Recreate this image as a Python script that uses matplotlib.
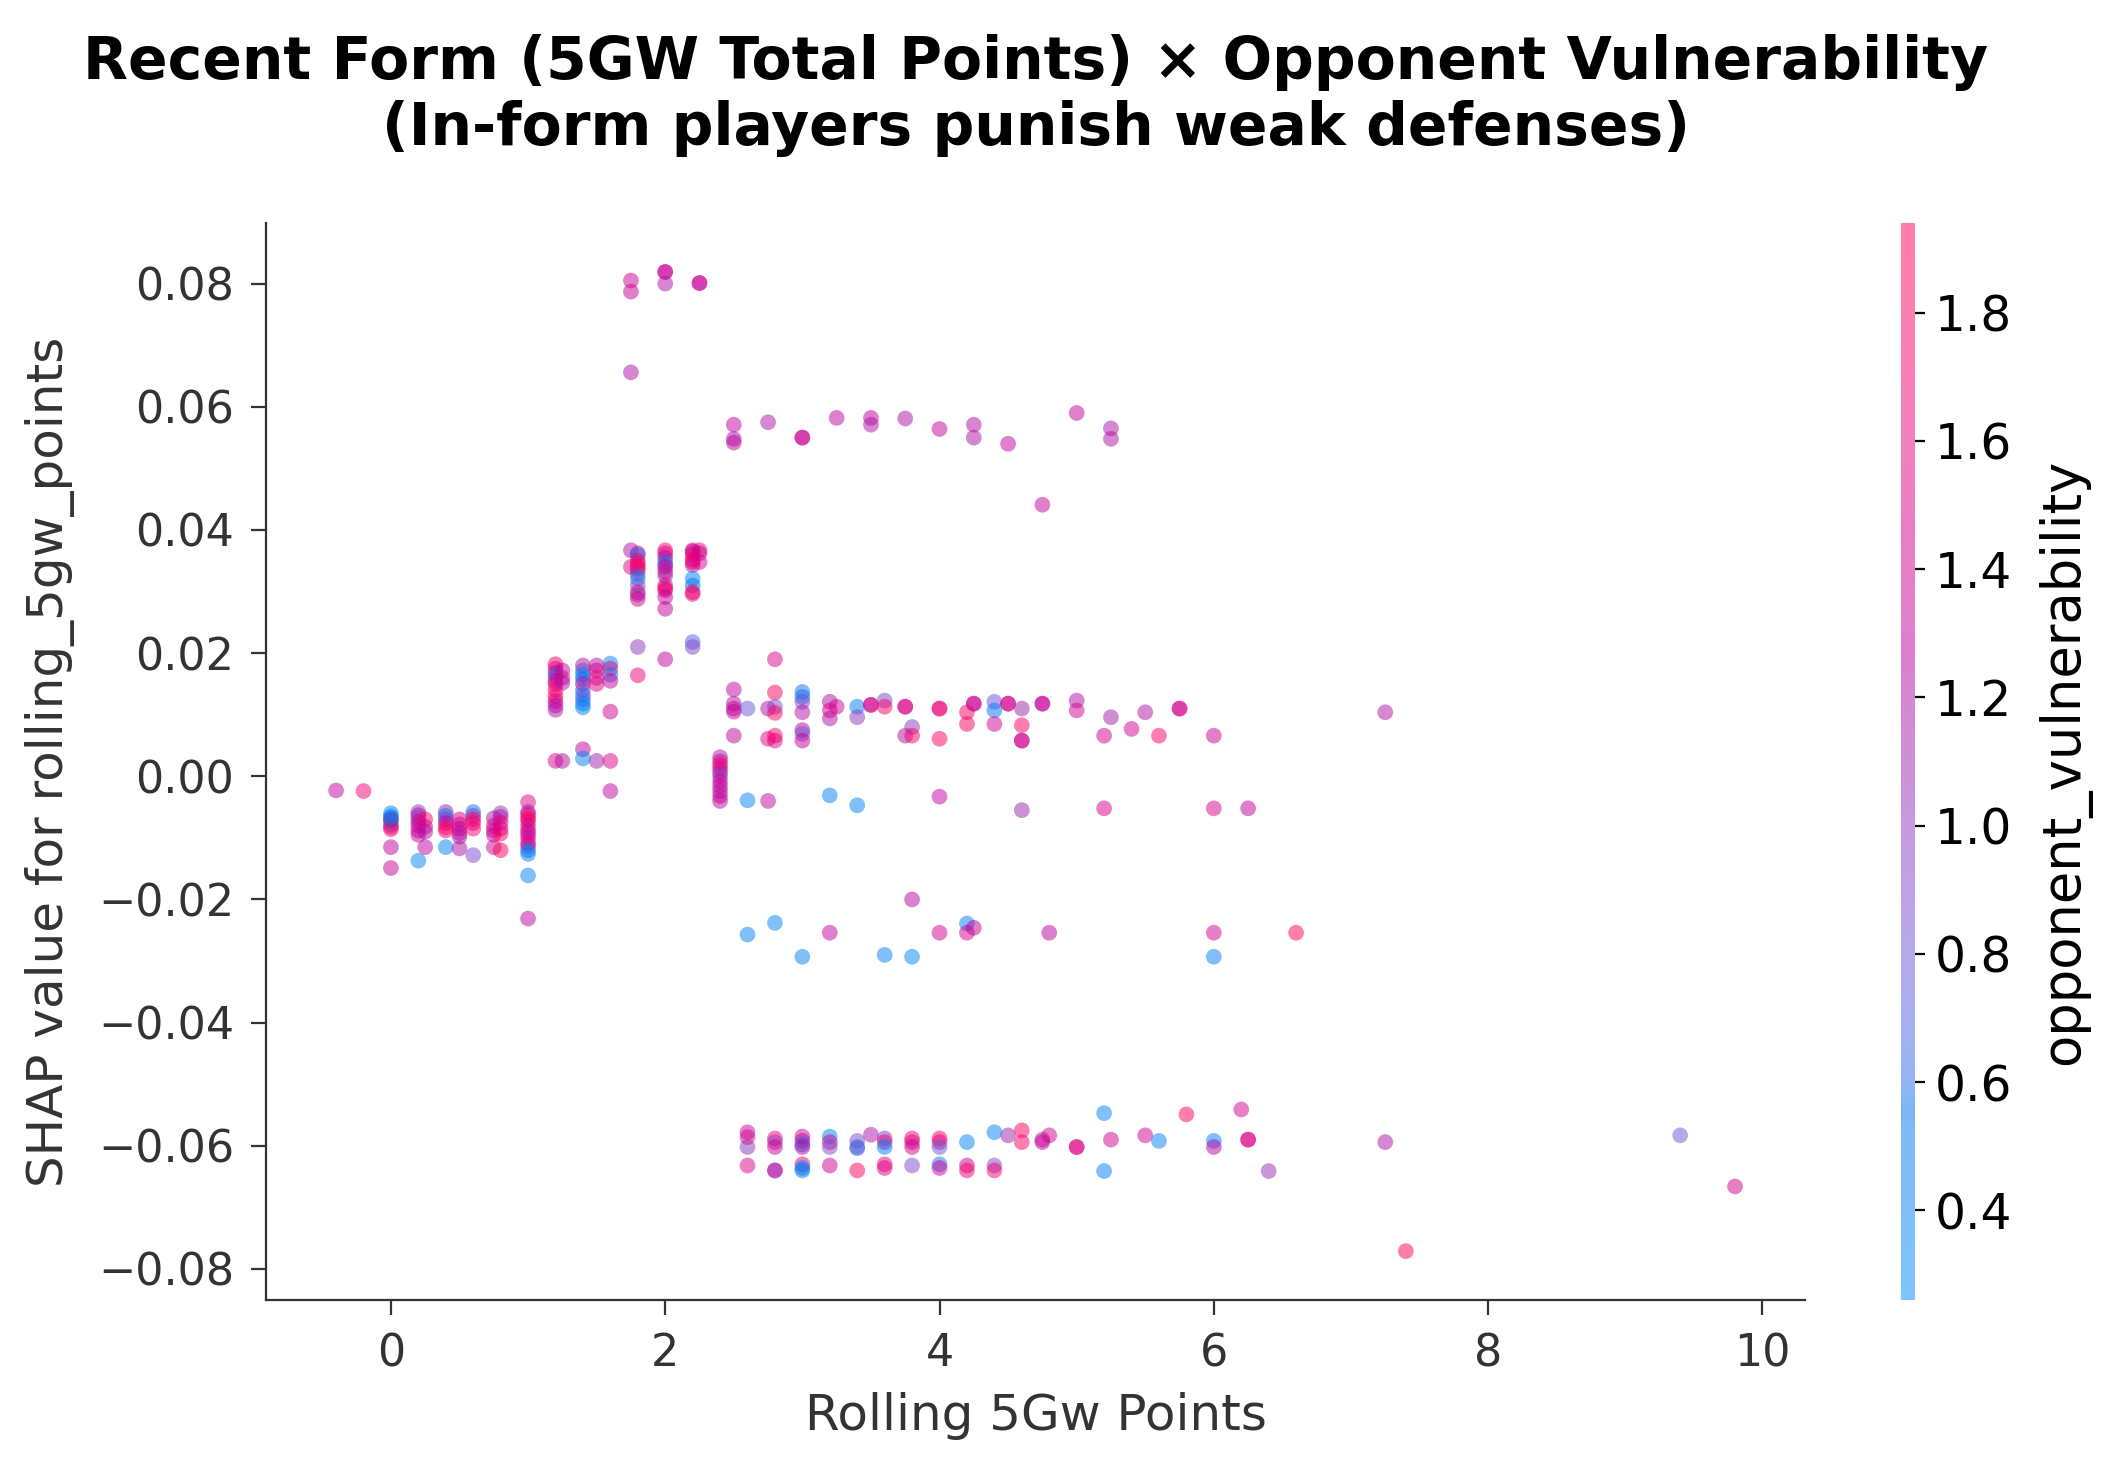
import numpy as np
import matplotlib
matplotlib.use("Agg")
import matplotlib.pyplot as plt
from matplotlib.colors import LinearSegmentedColormap

# (rolling_5gw_points, shap value, opponent_vulnerability), grouped by band
top_band = [
    (1.75, 0.0805, 1.35), (1.75, 0.0787, 1.35), (2.0, 0.0819, 1.3), (2.0, 0.0819, 1.4),
    (2.0, 0.0800, 1.2), (2.25, 0.0801, 1.3), (2.25, 0.0801, 1.4), (1.75, 0.0656, 1.2),
    (2.5, 0.0571, 1.3), (2.5, 0.0548, 1.2), (2.5, 0.0542, 1.3), (2.75, 0.0575, 1.2),
    (3.0, 0.0550, 1.3), (3.0, 0.0550, 1.4), (3.25, 0.0582, 1.3), (3.5, 0.0582, 1.3),
    (3.5, 0.0571, 1.2), (3.75, 0.0581, 1.2), (4.0, 0.0564, 1.3), (4.25, 0.0571, 1.2),
    (4.25, 0.0550, 1.2), (4.5, 0.0540, 1.3), (5.0, 0.0590, 1.3), (5.25, 0.0565, 1.2),
    (5.25, 0.0548, 1.2), (4.75, 0.0441, 1.3),
]

band_03 = [
    (1.75, 0.0367, 1.2), (1.75, 0.0340, 1.5),
    (1.8, 0.0362, 1.3), (1.8, 0.0359, 0.6), (1.8, 0.0350, 1.8), (1.8, 0.0345, 1.6),
    (1.8, 0.0340, 1.9), (1.8, 0.0336, 1.7), (1.8, 0.0329, 1.0), (1.8, 0.0321, 0.4),
    (1.8, 0.0310, 0.8), (1.8, 0.0299, 1.7), (1.8, 0.0295, 1.0), (1.8, 0.0288, 1.4),
    (1.8, 0.0210, 1.0), (1.8, 0.0164, 1.6),
    (2.0, 0.0367, 1.7), (2.0, 0.0362, 1.5), (2.0, 0.0355, 1.4), (2.0, 0.0348, 0.5),
    (2.0, 0.0343, 0.9), (2.0, 0.0340, 1.3), (2.0, 0.0332, 1.5), (2.0, 0.0326, 1.1),
    (2.0, 0.0310, 1.5), (2.0, 0.0305, 1.4), (2.0, 0.0302, 1.8), (2.0, 0.0291, 1.3),
    (2.0, 0.0272, 1.3), (2.0, 0.0190, 1.3),
    (2.2, 0.0367, 1.5), (2.2, 0.0365, 1.3), (2.2, 0.0360, 1.6), (2.2, 0.0352, 1.8),
    (2.2, 0.0348, 1.7), (2.2, 0.0343, 1.4), (2.2, 0.0321, 0.35), (2.2, 0.0310, 0.5),
    (2.2, 0.0299, 1.8), (2.2, 0.0296, 1.6), (2.2, 0.0218, 0.7), (2.2, 0.0210, 0.9),
    (2.25, 0.0367, 1.5), (2.25, 0.0362, 1.4), (2.25, 0.0348, 1.5),
]

band_015 = [
    (1.2, 0.0182, 1.8), (1.2, 0.0175, 1.5), (1.2, 0.0168, 1.2), (1.2, 0.0162, 0.6),
    (1.2, 0.0155, 1.3), (1.2, 0.0150, 1.6), (1.2, 0.0140, 1.8), (1.2, 0.0130, 1.7),
    (1.2, 0.0122, 1.5), (1.2, 0.0115, 1.3), (1.2, 0.0108, 1.2), (1.2, 0.0025, 1.45),
    (1.25, 0.0172, 1.3), (1.25, 0.0160, 1.5), (1.25, 0.0152, 1.2), (1.25, 0.0025, 1.2),
    (1.4, 0.0180, 1.2), (1.4, 0.0172, 0.9), (1.4, 0.0165, 0.4), (1.4, 0.0158, 0.5),
    (1.4, 0.0150, 1.3), (1.4, 0.0140, 0.9), (1.4, 0.0132, 0.5), (1.4, 0.0125, 0.8),
    (1.4, 0.0118, 0.4), (1.4, 0.0112, 0.35), (1.4, 0.0044, 1.3), (1.4, 0.0029, 0.35),
    (1.5, 0.0180, 1.2), (1.5, 0.0172, 1.4), (1.5, 0.0160, 1.6), (1.5, 0.0150, 1.5),
    (1.5, 0.0025, 1.1),
    (1.6, 0.0183, 0.35), (1.6, 0.0175, 1.6), (1.6, 0.0165, 0.6), (1.6, 0.0155, 1.3),
    (1.6, 0.0105, 1.4), (1.6, 0.0025, 1.5), (1.6, -0.0024, 1.3),
]

band_01 = [
    (2.5, 0.0141, 1.3), (2.5, 0.0118, 1.2), (2.5, 0.0110, 1.4), (2.5, 0.0105, 1.3),
    (2.5, 0.0066, 1.3), (2.6, 0.0110, 0.8), (2.75, 0.0110, 1.2), (2.75, 0.0061, 1.5),
    (2.8, 0.0190, 1.5), (2.8, 0.0136, 1.8), (2.8, 0.0113, 0.9), (2.8, 0.0103, 1.8),
    (2.8, 0.0066, 1.7), (2.8, 0.0058, 1.6),
    (3.0, 0.0137, 0.6), (3.0, 0.0129, 0.5), (3.0, 0.0121, 0.9), (3.0, 0.0104, 1.2),
    (3.0, 0.0075, 1.3), (3.0, 0.0069, 0.8), (3.0, 0.0058, 1.3),
    (3.2, 0.0121, 1.2), (3.2, 0.0107, 1.5), (3.2, 0.0094, 1.2), (3.25, 0.0113, 1.4),
    (3.4, 0.0113, 0.4), (3.4, 0.0096, 1.0), (3.5, 0.0116, 1.5), (3.5, 0.0116, 1.4),
    (3.6, 0.0123, 0.9), (3.6, 0.0113, 1.8), (3.75, 0.0113, 1.4), (3.75, 0.0113, 1.5),
    (3.75, 0.0066, 1.2), (3.8, 0.0080, 1.0), (3.8, 0.0066, 1.8),
    (4.0, 0.0110, 1.7), (4.0, 0.0110, 1.6), (4.0, 0.0061, 1.8),
    (4.2, 0.0104, 1.8), (4.2, 0.0085, 1.8), (4.25, 0.0118, 1.5), (4.25, 0.0118, 1.3),
    (4.4, 0.0121, 0.8), (4.4, 0.0107, 0.5), (4.4, 0.0085, 1.4),
    (4.5, 0.0118, 1.3), (4.5, 0.0118, 1.5),
    (4.6, 0.0110, 1.1), (4.6, 0.0083, 1.8), (4.6, 0.0058, 1.5), (4.6, 0.0058, 1.4),
    (4.75, 0.0118, 1.4), (4.75, 0.0118, 1.3), (5.0, 0.0123, 1.2), (5.0, 0.0107, 1.4),
    (5.2, 0.0066, 1.4), (5.25, 0.0096, 1.15), (5.4, 0.0077, 1.4), (5.5, 0.0104, 1.2),
    (5.6, 0.0066, 1.8), (5.75, 0.0110, 1.5), (5.75, 0.0110, 1.4), (6.0, 0.0066, 1.35),
    (7.25, 0.0104, 1.2),
]

band_0 = [
    (2.4, 0.0031, 1.2), (2.4, 0.0024, 1.4), (2.4, 0.0018, 1.7), (2.4, 0.0012, 1.5),
    (2.4, 0.0006, 1.2), (2.4, 0.0000, 1.0), (2.4, -0.0008, 1.4), (2.4, -0.0016, 1.3),
    (2.4, -0.0024, 1.2), (2.4, -0.0032, 1.4), (2.4, -0.0040, 1.3),
    (2.6, -0.0039, 0.35), (2.75, -0.0040, 1.3), (3.2, -0.0031, 0.35), (3.4, -0.0047, 0.35),
    (4.0, -0.0033, 1.3), (4.6, -0.0055, 1.1), (5.2, -0.0052, 1.45), (6.0, -0.0052, 1.45),
    (6.25, -0.0052, 1.3),
]

band_low_form = [
    (-0.4, -0.0023, 1.3), (-0.2, -0.0024, 1.7),
    (0.0, -0.0060, 0.35), (0.0, -0.0065, 0.35), (0.0, -0.0070, 0.4), (0.0, -0.0072, 1.8),
    (0.0, -0.0078, 0.35), (0.0, -0.0082, 1.6), (0.0, -0.0086, 1.7), (0.0, -0.0068, 0.5),
    (0.0, -0.0115, 1.3), (0.0, -0.0149, 1.35),
    (0.2, -0.0058, 1.0), (0.2, -0.0063, 1.3), (0.2, -0.0068, 0.9), (0.2, -0.0074, 1.5),
    (0.2, -0.0080, 1.2), (0.2, -0.0088, 1.4), (0.2, -0.0095, 1.3), (0.2, -0.0137, 0.35),
    (0.25, -0.0070, 1.7), (0.25, -0.0082, 1.5), (0.25, -0.0090, 1.2), (0.25, -0.0115, 1.3),
    (0.4, -0.0058, 1.1), (0.4, -0.0064, 0.5), (0.4, -0.0070, 1.0), (0.4, -0.0076, 1.3),
    (0.4, -0.0083, 1.8), (0.4, -0.0088, 1.7), (0.4, -0.0115, 0.35),
    (0.5, -0.0070, 1.4), (0.5, -0.0078, 1.5), (0.5, -0.0085, 1.3), (0.5, -0.0092, 1.4),
    (0.5, -0.0098, 1.2), (0.5, -0.0117, 1.2),
    (0.6, -0.0058, 0.5), (0.6, -0.0064, 1.0), (0.6, -0.0070, 1.8), (0.6, -0.0076, 1.6),
    (0.6, -0.0085, 1.7), (0.6, -0.0128, 0.9),
    (0.75, -0.0068, 1.2), (0.75, -0.0080, 1.5), (0.75, -0.0088, 1.4), (0.75, -0.0095, 1.3),
    (0.75, -0.0115, 1.4),
    (0.8, -0.0060, 1.0), (0.8, -0.0066, 1.2), (0.8, -0.0075, 1.6), (0.8, -0.0085, 1.4),
    (0.8, -0.0093, 1.8), (0.8, -0.0120, 1.85),
    (1.0, -0.0042, 1.5), (1.0, -0.0058, 1.2), (1.0, -0.0062, 1.5), (1.0, -0.0068, 1.8),
    (1.0, -0.0072, 1.9), (1.0, -0.0080, 1.4), (1.0, -0.0088, 1.3), (1.0, -0.0093, 1.5),
    (1.0, -0.0100, 1.3), (1.0, -0.0108, 1.6), (1.0, -0.0113, 1.5), (1.0, -0.0120, 0.5),
    (1.0, -0.0126, 0.4), (1.0, -0.0161, 0.35), (1.0, -0.0231, 1.3),
]

band_neg025 = [
    (2.6, -0.0257, 0.35), (2.8, -0.0238, 0.35), (3.0, -0.0293, 0.35), (3.2, -0.0254, 1.3),
    (3.6, -0.0290, 0.35), (3.8, -0.0200, 1.25), (3.8, -0.0293, 0.35), (4.0, -0.0254, 1.4),
    (4.2, -0.0239, 0.35), (4.2, -0.0254, 1.45), (4.25, -0.0246, 1.3), (4.8, -0.0254, 1.25),
    (6.0, -0.0254, 1.4), (6.0, -0.0293, 0.4), (6.6, -0.0254, 1.85),
]

band_neg06 = [
    (2.6, -0.0578, 1.3), (2.6, -0.0586, 1.5), (2.6, -0.0602, 1.0), (2.6, -0.0632, 1.5),
    (2.8, -0.0588, 1.7), (2.8, -0.0594, 1.0), (2.8, -0.0602, 1.4), (2.8, -0.0640, 1.0),
    (2.8, -0.0640, 1.3),
    (3.0, -0.0585, 1.3), (3.0, -0.0592, 1.5), (3.0, -0.0598, 0.5), (3.0, -0.0602, 1.3),
    (3.0, -0.0630, 1.5), (3.0, -0.0636, 0.4), (3.0, -0.0640, 0.5),
    (3.2, -0.0585, 0.35), (3.2, -0.0594, 1.4), (3.2, -0.0602, 0.9), (3.2, -0.0632, 1.35),
    (3.4, -0.0592, 0.9), (3.4, -0.0602, 0.5), (3.4, -0.0604, 0.8), (3.4, -0.0640, 1.85),
    (3.5, -0.0582, 1.2),
    (3.6, -0.0588, 1.0), (3.6, -0.0594, 1.5), (3.6, -0.0602, 0.4), (3.6, -0.0630, 1.7),
    (3.6, -0.0636, 1.5),
    (3.8, -0.0588, 1.6), (3.8, -0.0594, 1.6), (3.8, -0.0602, 1.4), (3.8, -0.0632, 0.9),
    (4.0, -0.0588, 1.85), (4.0, -0.0594, 1.5), (4.0, -0.0602, 0.8), (4.0, -0.0630, 0.6),
    (4.0, -0.0636, 1.4),
    (4.2, -0.0594, 0.35), (4.2, -0.0632, 1.4), (4.2, -0.0640, 1.7),
    (4.4, -0.0578, 0.35), (4.4, -0.0632, 0.9), (4.4, -0.0640, 1.7),
    (4.5, -0.0583, 1.1), (4.6, -0.0575, 1.85), (4.6, -0.0594, 1.8), (4.75, -0.0590, 1.2),
    (4.75, -0.0594, 1.4), (4.8, -0.0583, 1.4), (5.0, -0.0602, 1.5), (5.0, -0.0602, 1.5),
    (5.2, -0.0547, 0.35), (5.2, -0.0641, 0.4), (5.25, -0.0590, 1.4), (5.5, -0.0583, 1.4),
    (5.6, -0.0592, 0.35), (5.8, -0.0549, 1.85), (6.0, -0.0592, 0.4), (6.0, -0.0602, 1.25),
    (6.2, -0.0541, 1.4), (6.25, -0.0590, 1.5), (6.25, -0.0590, 1.5), (6.4, -0.0641, 1.05),
    (7.25, -0.0594, 1.2), (9.4, -0.0583, 0.8), (9.8, -0.0666, 1.4), (7.4, -0.0771, 1.9),
]

color_vmin, color_vmax = 0.26, 1.94

title = "Recent Form (5GW Total Points) × Opponent Vulnerability\n(In-form players punish weak defenses)"
axis_color = "#333333"


def lch_to_rgb(l, c, h):
    # CIE LCh -> sRGB (D65), same recipe shap uses for its red_blue map
    a = c * np.cos(h)
    b = c * np.sin(h)
    fy = (l + 16) / 116
    fx = a / 500 + fy
    fz = fy - b / 200

    def finv(t):
        return t ** 3 if t > 6 / 29 else (t - 16 / 116) / 7.787

    xyz = np.array([0.95047 * finv(fx), finv(fy), 1.08883 * finv(fz)])
    m = np.array([[3.2406, -1.5372, -0.4986],
                  [-0.9689, 1.8758, 0.0415],
                  [0.0557, -0.2040, 1.0570]])
    rgb = m @ xyz
    rgb = np.clip(rgb, 0, None)
    rgb = np.where(rgb > 0.0031308, 1.055 * rgb ** (1 / 2.4) - 0.055, 12.92 * rgb)
    return np.clip(rgb, 0, 1)


def make_red_blue():
    nsteps = 100
    l_vals = list(np.linspace(54.0, 40.0, nsteps // 2)) + list(np.linspace(40.0, 54.0, nsteps // 2))
    c_vals = np.linspace(70.0, 90.0, nsteps)
    h_vals = np.linspace(4.6588, 0.35470565 + 2 * np.pi, nsteps)
    colors = [lch_to_rgb(l, c, h) for l, c, h in zip(l_vals, c_vals, h_vals)]
    return LinearSegmentedColormap.from_list("red_blue", colors)


points = top_band + band_03 + band_015 + band_01 + band_0 + band_low_form + band_neg025 + band_neg06
xs = np.array([p[0] for p in points])
shap_vals = np.array([p[1] for p in points])
vuln = np.array([p[2] for p in points])

fig = plt.figure(figsize=(10.585, 7.35), dpi=200)
ax = fig.add_axes([0.1257, 0.1156, 0.7269, 0.7327])
cax = fig.add_axes([0.898, 0.1156, 0.0066, 0.7327])

sc = ax.scatter(xs, shap_vals, c=vuln, cmap=make_red_blue(), vmin=color_vmin, vmax=color_vmax,
                s=32, linewidth=0, alpha=0.5)

ax.spines["top"].set_visible(False)
ax.spines["right"].set_visible(False)
for spine in ax.spines.values():
    spine.set_edgecolor(axis_color)
ax.tick_params(color=axis_color, labelcolor=axis_color, labelsize=16, length=5.5, pad=6)
ax.set_xlabel("Rolling 5Gw Points", color=axis_color, fontsize=18, labelpad=6)
ax.set_ylabel("SHAP value for rolling_5gw_points", color=axis_color, fontsize=18)
ax.yaxis.set_label_coords(-0.124, 0.5)
ax.set_title(title, fontsize=21, fontweight="bold", pad=28)

cb = fig.colorbar(sc, cax=cax)
cb.outline.set_visible(False)
cb.ax.tick_params(labelsize=17.5)
cb.set_label("opponent_vulnerability", fontsize=19, labelpad=9)

plt.savefig("out.png", dpi=200)
